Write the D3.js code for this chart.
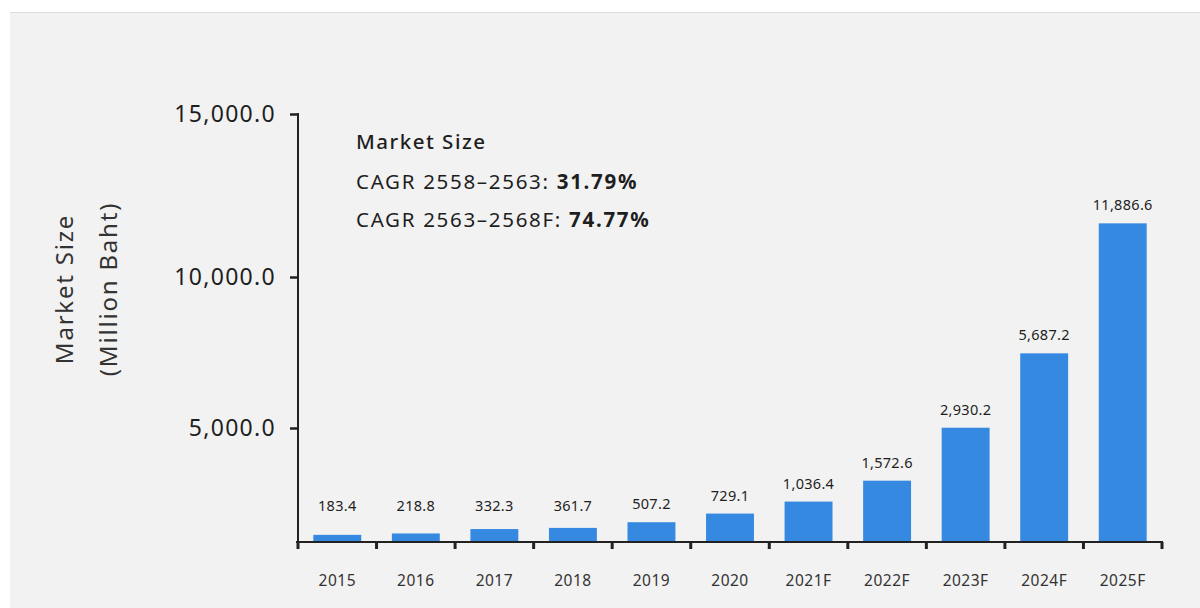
<!DOCTYPE html>
<html>
<head>
<meta charset="utf-8">
<script src="https://cdn.jsdelivr.net/npm/d3@7"></script>
<style>
  body { margin: 0; background: #ffffff; }
  svg { display: block; font-family: "Noto Sans", "DejaVu Sans", sans-serif; }
</style>
</head>
<body>
<svg id="chart" width="1200" height="608"></svg>
<script>
// ---- data ----
const categories = ["2015", "2016", "2017", "2018", "2019", "2020", "2021F", "2022F", "2023F", "2024F", "2025F"];
const values = [183.4, 218.8, 332.3, 361.7, 507.2, 729.1, 1036.4, 1572.6, 2930.2, 5687.2, 11886.6];
const valueLabels = ["183.4", "218.8", "332.3", "361.7", "507.2", "729.1", "1,036.4", "1,572.6", "2,930.2", "5,687.2", "11,886.6"];
const yTicks = [5000, 10000, 15000];
const yTickLabels = ["5,000.0", "10,000.0", "15,000.0"];
const yTitle = ["Market Size", "(Million Baht)"];
const noteTitle = "Market Size";
const noteLines = [["CAGR 2558–2563: ", "31.79%"], ["CAGR 2563–2568F: ", "74.77%"]];

// ---- layout ----
const svg = d3.select("#chart");
const W = 1200, H = 608;
const x0 = 298, x1 = 1162, yBase = 542;

svg.append("rect").attr("x", 10).attr("y", 12).attr("width", W - 10).attr("height", H - 12).attr("fill", "#f2f2f2");
svg.append("line").attr("x1", 10).attr("x2", W).attr("y1", 12.5).attr("y2", 12.5).attr("stroke", "#dcdcdc").attr("stroke-width", 1);

// axis scale (as printed on the reference, not evenly spaced)
const yAxisScale = d3.scaleLinear().domain([0, 5000, 10000, 15000]).range([yBase, 428, 277, 114]);
// bar scale (the reference compresses the tallest bars)
const yBar = d3.scaleLinear().domain([0, 3000, 6000, 12000]).range([yBase, 425, 345, 221]);

const x = d3.scaleBand().domain(categories).range([x0, x1]).paddingInner(0.39).paddingOuter(0.195);
const step = x.step();

// bars
svg.append("g").selectAll("rect").data(values).join("rect")
  .attr("x", (d, i) => x(categories[i]))
  .attr("width", x.bandwidth())
  .attr("y", d => yBar(d))
  .attr("height", d => yBase - yBar(d))
  .attr("fill", "#3689e1");

// value labels
svg.append("g").selectAll("text").data(values).join("text")
  .attr("x", (d, i) => x(categories[i]) + x.bandwidth() / 2)
  .attr("y", d => Math.min(506, yBar(d) - 18) + 5)
  .attr("text-anchor", "middle")
  .attr("font-size", 14.5)
  .attr("letter-spacing", 0.3)
  .attr("fill", "#1e1e1e")
  .text((d, i) => valueLabels[i]);

// y axis
const yAxis = d3.axisLeft(yAxisScale).tickValues(yTicks).tickSize(8).tickPadding(14)
  .tickFormat((d, i) => yTickLabels[i]);
const gy = svg.append("g").attr("transform", `translate(${x0},0)`).call(yAxis);
gy.select(".domain").remove();
gy.selectAll(".tick line").attr("stroke", "#222").attr("stroke-width", 2.5);
gy.selectAll(".tick text").attr("font-size", 23).attr("letter-spacing", 1.3).attr("fill", "#1e1e1e")
  .attr("font-family", "Noto Sans, sans-serif");
svg.append("line").attr("x1", x0).attr("x2", x0).attr("y1", yAxisScale(15000) - 1).attr("y2", yBase)
  .attr("stroke", "#222").attr("stroke-width", 2);

// x axis
svg.append("line").attr("x1", x0 - 2).attr("x2", x1 + 1).attr("y1", yBase).attr("y2", yBase)
  .attr("stroke", "#222").attr("stroke-width", 2);
svg.append("g").selectAll("line").data(d3.range(categories.length + 1)).join("line")
  .attr("x1", i => x0 + i * step).attr("x2", i => x0 + i * step)
  .attr("y1", yBase).attr("y2", yBase + 7)
  .attr("stroke", "#222").attr("stroke-width", 3);
svg.append("g").selectAll("text").data(categories).join("text")
  .attr("x", d => x(d) + x.bandwidth() / 2)
  .attr("y", 586)
  .attr("text-anchor", "middle")
  .attr("font-size", 15.5)
  .attr("letter-spacing", 0.5)
  .attr("fill", "#333")
  .text(d => d);

// y title
const tg = svg.append("g").attr("transform", "translate(0,289)");
tg.selectAll("text").data(yTitle).join("text")
  .attr("transform", (d, i) => `translate(${73 + i * 44},0) rotate(-90)`)
  .attr("text-anchor", "middle")
  .attr("font-size", 24)
  .attr("letter-spacing", 1.8)
  .attr("fill", "#333")
  .text(d => d);

// annotation
svg.append("text").attr("x", 356).attr("y", 149).attr("font-size", 20.5).attr("font-weight", 500)
  .attr("letter-spacing", 1.5)
  .attr("fill", "#1e1e1e").text(noteTitle);
noteLines.forEach((ln, i) => {
  const t = svg.append("text").attr("x", 356).attr("y", 189 + i * 38).attr("font-size", 20.5)
    .attr("letter-spacing", 1.7).attr("fill", "#1e1e1e");
  t.append("tspan").text(ln[0]);
  t.append("tspan").attr("font-weight", 700).text(ln[1]);
});
</script>
</body>
</html>
